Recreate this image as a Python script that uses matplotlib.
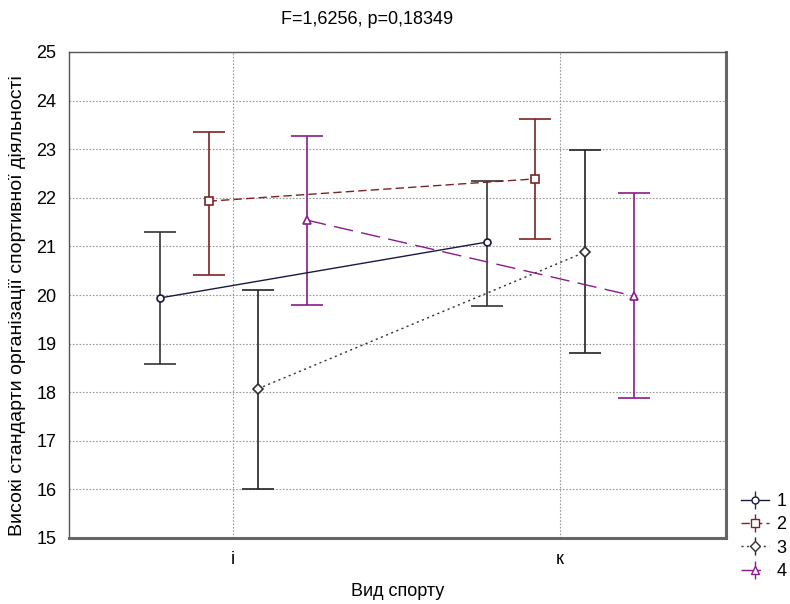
import matplotlib.pyplot as plt
import numpy as np

plt.rcParams['font.family'] = ['Liberation Sans', 'DejaVu Sans']

categories = ['і', 'к']
groups = ['1', '2', '3', '4']

# means and confidence limits per group, for categories і and к
means = [[19.94, 21.09], [21.93, 22.39], [18.07, 20.88], [21.54, 19.98]]
upper = [[21.30, 22.35], [23.35, 23.62], [20.10, 22.98], [23.27, 22.10]]
lower = [[18.58, 19.77], [20.41, 21.15], [16.01, 18.81], [19.79, 17.88]]

offsets = [-0.223, -0.075, 0.076, 0.226]
colors = ['#1a1a40', '#7a2424', '#303030', '#8b1a8b']
bar_colors = ['#333333', '#7a2424', '#222222', '#8b1a8b']
styles = ['-', (0, (6, 3)), (0, (1.5, 2.5)), (0, (14, 6))]
markers = ['o', 's', 'D', '^']
msizes = [5, 6, 5, 6]

fig = plt.figure(figsize=(7.9, 6.04), dpi=100)
ax = fig.add_axes([69 / 790, 1 - 538 / 604, (726 - 69) / 790, (538 - 52) / 604])

x = np.arange(len(categories))
handles = []
for i, g in enumerate(groups):
    m = np.array(means[i])
    yerr = [m - np.array(lower[i]), np.array(upper[i]) - m]
    xs = x + offsets[i]
    ax.plot(xs, m, color=colors[i], linestyle=styles[i], lw=1.0, zorder=3)
    ax.errorbar(xs, m, yerr=yerr, fmt='none', ecolor=bar_colors[i],
                elinewidth=1.2, capsize=11.5, capthick=1.2, zorder=2)
    ax.plot(xs, m, linestyle='none', marker=markers[i], ms=msizes[i],
            mfc='white', mec=colors[i], mew=1.2, zorder=4)
    h = ax.errorbar([], [], yerr=[], color=colors[i], ecolor=bar_colors[i],
                    linestyle=styles[i], marker=markers[i], ms=msizes[i],
                    mfc='white', mec=colors[i], capsize=8, lw=1.0)
    handles.append(h)

ax.set_xlim(-0.502, 1.508)
ax.set_ylim(15, 25)
ax.set_xticks(x)
ax.set_xticklabels(categories)
ax.set_yticks(np.arange(15, 26, 1))
ax.tick_params(labelsize=13, length=0, pad=9)
ax.grid(True, color='#999999', linestyle=(0, (1.5, 1.5)), lw=0.8)
ax.set_axisbelow(True)
for side in ['top', 'left']:
    ax.spines[side].set_color('#555555')
    ax.spines[side].set_linewidth(1.0)
for side in ['right', 'bottom']:
    ax.spines[side].set_color('#666666')
    ax.spines[side].set_linewidth(2.2)

fig.text(367 / 790, 1 - 20 / 604, 'F=1,6256, p=0,18349', ha='center', va='center', fontsize=13)
fig.text(398 / 790, 1 - 592 / 604, 'Вид спорту', ha='center', va='center', fontsize=13)
fig.text(18 / 790, 1 - 306 / 604, 'Високі стандарти організації спортивної діяльності',
         ha='center', va='center', rotation=90, fontsize=14)

fig.legend(handles, groups, loc='upper left', bbox_to_anchor=(741 / 790, 1 - 493 / 604),
           frameon=False, fontsize=13, handlelength=1.55, handletextpad=0.4,
           labelspacing=0.35, borderaxespad=0, borderpad=0)

fig.savefig('out.png', dpi=100)
